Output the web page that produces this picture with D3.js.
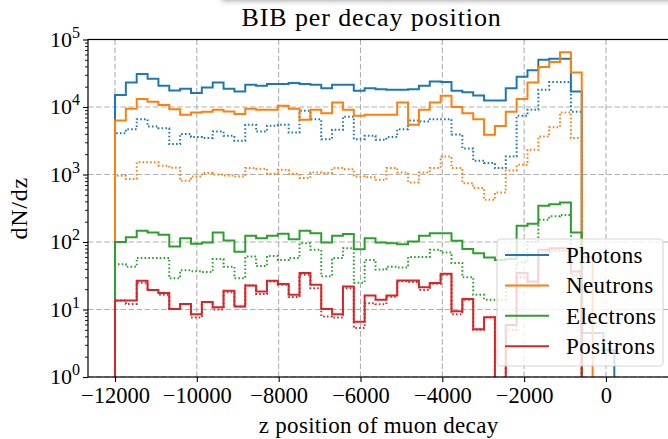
<!DOCTYPE html>
<html><head><meta charset="utf-8">
<script src="https://cdn.jsdelivr.net/npm/d3@7"></script>
<style>
body{margin:0;background:#fff;}
svg{display:block;}
text{font-family:"Liberation Serif","Times New Roman",serif;fill:#000;}
</style>
</head><body>
<svg id="c" width="668" height="439"></svg>
<script>
// ---- data ----
const binStart = -12000;
const binWidth = 265.3;
const photons = [15100,23000,30700,26200,20600,17600,18600,16100,19500,23000,18600,17000,21300,20600,21900,21900,22600,21900,21300,19000,21300,21300,17400,19000,18400,18000,18000,18400,20600,23900,23400,17400,16600,14800,12500,12500,19000,28000,34900,50000,51800,51800,17000,4.5,4.5,2.5];
const photonsDecay = [4100,4700,6600,5150,4860,2820,3980,3580,3470,4340,3740,3160,5450,4340,5260,5450,4200,8800,6600,3340,4600,7200,3340,3740,3270,3580,4700,6300,6100,6600,6600,3900,2430,1600,1480,1245,1850,7400,9100,18000,23400,23400,8500,0,0,0];
const neutrons = [6300,9400,13100,12000,10700,9300,7700,8300,8500,9100,8600,7900,9400,9100,9100,10400,9400,6450,9100,8100,11700,9100,7400,7700,7700,7700,11700,5450,9100,11700,14700,10000,8100,6600,3870,5250,8500,13100,23000,39000,46300,64800,32500,60,0,0];
const neutronsDecay = [955,855,1520,1520,1350,1260,807,935,1050,1000,966,935,1245,1220,1025,1175,1025,884,1070,1050,1245,1200,935,910,835,1245,1070,760,1070,1245,1850,1245,745,630,422,540,1150,1390,2320,3650,5030,8300,3460,0,0,0];
const electrons = [100,118,147,138,128,86,114,94,98,138,105,72,124,114,124,133,110,147,135,98,124,131,78,114,98,96,93,102,124,135,135,104,79,68,59,54,56,174,186,344,364,385,138,0,0,0];
const electronsDecay = [47,43,58,58,58,29,38,37,36,56,43,29,61,44,62,54,58,96,77,31,58,81,25,54,39,43,42,60,60,77,70,49,30,16.5,14,14,22,50,100,214,240,252,80,0,0,0];
const positrons = [13.6,13.6,26.6,19.5,17.5,10.2,12.1,8.5,12.9,10.8,18.9,11.1,22.7,18.5,26.6,23.8,16.5,34.6,23.2,10.2,8.5,21.9,6.6,16.1,13.9,16.1,26.9,26.9,21.4,24.6,33.8,9.4,14.3,5.1,7.7,0,5.9,34.6,26,77,81,81,36.5,0,0,0];
const positronsDecay = [13.6,12.1,25,19.5,16.5,10.2,12.1,7.6,12.9,10,18,11.1,22.7,17,26,23.2,15.3,32.7,20.7,7.9,7.6,20.7,5.3,12.4,12,15.5,26.2,25.5,19.5,24,32.7,8.5,14,5,7.7,0,5,30,22,70,75,75,32,0,0,0];

const seriesNames = ["Photons","Neutrons","Electrons","Positrons"];
const seriesColors = ["#1f77b4","#ff7f0e","#2ca02c","#d62728"];
const xTicks = [-12000,-10000,-8000,-6000,-4000,-2000,0];
const xTickLabels = ["\u221212000","\u221210000","\u22128000","\u22126000","\u22124000","\u22122000","0"];
const yTicks = [1,10,100,1000,10000,100000];
const yTickExps = ["0","1","2","3","4","5"];
const titleText = "BIB per decay position";
const xLabelText = "z position of muon decay";
const yLabelText = "dN/dz";

// ---- layout ----
const W = 668, H = 439;
const L = 88, R = 675.2, T = 39.5, B = 377;
const svg = d3.select("#c");
svg.append("rect").attr("width",W).attr("height",H).attr("fill","#fff");

const defs = svg.append("defs");
defs.append("filter").attr("id","blur").attr("x","-20%").attr("y","-200%").attr("width","140%").attr("height","500%")
  .append("feGaussianBlur").attr("stdDeviation",3);
defs.append("clipPath").attr("id","plotclip").append("rect")
  .attr("x",L).attr("y",T).attr("width",R-L).attr("height",B-T);
svg.append("rect").attr("x",222).attr("y",-14).attr("width",520).attr("height",14)
  .attr("fill","#000").attr("opacity",0.45).attr("filter","url(#blur)");

const x = d3.scaleLinear().domain([-12660,1692]).range([L,R]);
const y = d3.scaleLog().domain([1,1e5]).range([B,T]);

// grid
const grid = svg.append("g").attr("stroke","#b0b0b0").attr("stroke-width",1.1)
  .attr("stroke-dasharray","5.6,2.5").attr("fill","none");
xTicks.forEach(t=>grid.append("line").attr("x1",x(t)).attr("x2",x(t)).attr("y1",T).attr("y2",B));
yTicks.forEach(t=>grid.append("line").attr("x1",L).attr("x2",R).attr("y1",y(t)).attr("y2",y(t)));

// histograms
const nb = photons.length;
const edges = d3.range(nb+1).map(k=>binStart + k*binWidth);
function stepPoints(vals){
  const pts = [[edges[0],0]];
  vals.forEach((v,k)=>{ pts.push([edges[k],v]); pts.push([edges[k+1],v]); });
  pts.push([edges[nb],0]);
  return pts;
}
const line = d3.line().x(d=>x(d[0])).y(d=> d[1]>0 ? y(d[1]) : B+40);
const plotG = svg.append("g").attr("clip-path","url(#plotclip)");
const groups = [[photons,photonsDecay],[neutrons,neutronsDecay],[electrons,electronsDecay],[positrons,positronsDecay]];
groups.forEach((g,i)=>{
  plotG.append("path").attr("d",line(stepPoints(g[0]))).attr("fill","none")
    .attr("stroke",seriesColors[i]).attr("stroke-width",2).attr("stroke-linejoin","miter");
  plotG.append("path").attr("d",line(stepPoints(g[1]))).attr("fill","none")
    .attr("stroke",seriesColors[i]).attr("stroke-width",2).attr("stroke-dasharray","1.6,2.2");
});

// axes
const xAxis = d3.axisBottom(x).tickValues(xTicks).tickFormat((d,i)=>xTickLabels[i]).tickSize(5).tickPadding(5);
const gx = svg.append("g").attr("transform",`translate(0,${B})`).call(xAxis);
gx.select(".domain").remove();
gx.selectAll(".tick line").attr("stroke","#000").attr("stroke-width",1.1);
gx.selectAll(".tick text").attr("font-size",22.5).attr("font-family","Liberation Serif, serif").attr("dy","0.7em");

const gy = svg.append("g").attr("transform",`translate(${L},0)`);
const minor = [];
yTicks.slice(0,-1).forEach(t=>{ for(let m=2;m<=9;m++) minor.push(t*m); });
gy.call(d3.axisLeft(y).tickValues(minor).tickSize(3).tickFormat(""));
gy.select(".domain").remove();
gy.selectAll(".tick line").attr("stroke","#000").attr("stroke-width",0.9);
const gy2 = svg.append("g").attr("transform",`translate(${L},0)`);
gy2.call(d3.axisLeft(y).tickValues(yTicks).tickSize(5).tickFormat(""));
gy2.select(".domain").remove();
gy2.selectAll(".tick line").attr("stroke","#000").attr("stroke-width",1.1);
yTicks.forEach((t,i)=>{
  const tx = svg.append("text").attr("x",L-8).attr("y",y(t)+7).attr("text-anchor","end").attr("font-size",22);
  tx.append("tspan").text("10");
  tx.append("tspan").attr("font-size",16).attr("dy",-9).text(yTickExps[i]);
});

// spines
svg.append("rect").attr("x",L).attr("y",T).attr("width",R-L).attr("height",B-T)
  .attr("fill","none").attr("stroke","#000").attr("stroke-width",1.2);

// labels
svg.append("text").attr("x",(L+R)/2 - 10).attr("y",26).attr("text-anchor","middle").attr("font-size",26)
  .attr("letter-spacing",0.9).text(titleText);
svg.append("text").attr("x",(L+R)/2 - 3).attr("y",433).attr("text-anchor","middle").attr("font-size",23)
  .attr("letter-spacing",0.3).text(xLabelText);
svg.append("text").attr("transform",`translate(27,${(T+B)/2}) rotate(-90)`).attr("text-anchor","middle").attr("font-size",24)
  .attr("letter-spacing",0.8).text(yLabelText);

// legend
const lg = svg.append("g");
lg.append("rect").attr("x",497).attr("y",239).attr("width",166).attr("height",127).attr("rx",4)
  .attr("fill","#fff").attr("fill-opacity",0.8).attr("stroke","#cccccc").attr("stroke-opacity",0.8).attr("stroke-width",1.1);
seriesNames.forEach((n,i)=>{
  const cy = 255 + i*30.4;
  lg.append("line").attr("x1",505).attr("x2",549).attr("y1",cy).attr("y2",cy).attr("stroke",seriesColors[i]).attr("stroke-width",2);
  lg.append("text").attr("x",566).attr("y",cy+8).attr("font-size",23).attr("letter-spacing",0.4).text(n);
});
</script>
</body></html>
